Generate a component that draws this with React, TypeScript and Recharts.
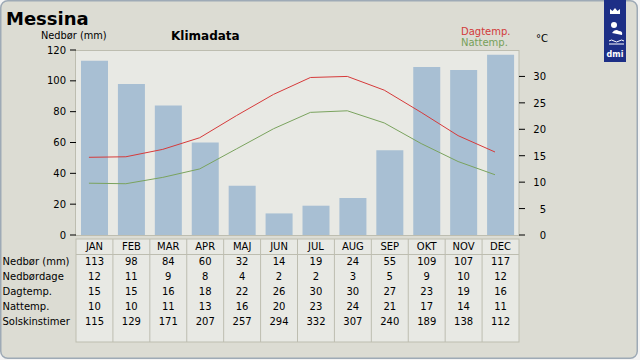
import React from 'react';
import { ComposedChart, Bar, Line, XAxis, YAxis } from 'recharts';

const months = ['JAN', 'FEB', 'MAR', 'APR', 'MAJ', 'JUN', 'JUL', 'AUG', 'SEP', 'OKT', 'NOV', 'DEC'];
const precipitation = [113, 98, 84, 60, 32, 14, 19, 24, 55, 109, 107, 117];
const rainDays = [12, 11, 9, 8, 4, 2, 2, 3, 5, 9, 10, 12];
const dayTempTable = [15, 15, 16, 18, 22, 26, 30, 30, 27, 23, 19, 16];
const nightTempTable = [10, 10, 11, 13, 16, 20, 23, 24, 21, 17, 14, 11];
const sunHours = [115, 129, 171, 207, 257, 294, 332, 307, 240, 189, 138, 112];
// curve values as drawn (not rounded)
const dayTempLine = [14.7, 14.8, 16.2, 18.4, 22.6, 26.6, 29.8, 30.0, 27.4, 23.2, 18.8, 15.7];
const nightTempLine = [9.8, 9.7, 10.9, 12.5, 16.3, 20.1, 23.2, 23.5, 21.2, 17.3, 13.9, 11.4];
const mmTicks = [0, 20, 40, 60, 80, 100, 120];
const tempTicks = [0, 5, 10, 15, 20, 25, 30];

const tableRows: { label: string; values: number[] }[] = [
  { label: 'Nedbør (mm)', values: precipitation },
  { label: 'Nedbørdage', values: rainDays },
  { label: 'Dagtemp.', values: dayTempTable },
  { label: 'Nattemp.', values: nightTempTable },
  { label: 'Solskinstimer', values: sunHours },
];

const data = months.map((m, i) => ({
  month: m,
  idx: i,
  precip: precipitation[i],
  day: dayTempLine[i],
  night: nightTempLine[i],
}));

const FONT = '"DejaVu Sans", Verdana, sans-serif';
const PLOT_L = 76;
const PLOT_R = 519;
const PLOT_T = 50;
const PLOT_B = 235;
const COL_W = (PLOT_R - PLOT_L) / 12;
const TABLE_T = 239;
const TABLE_B = 342;

const RightTick = (props: any) => {
  const { x, y, payload } = props;
  return (
    <text x={x + 19} y={y} dy={4} textAnchor="end" fontSize={10} fontFamily={FONT} fill="#000">
      {payload.value}
    </text>
  );
};

const Backdrop = () => (
  <svg width={640} height={360} style={{ position: 'absolute', left: 0, top: 0 }}>
    <rect x={0} y={0} width={640} height={360} fill="#f4f4f4" />
    <rect x={0.75} y={0.75} width={636.5} height={357.5} rx={7} fill="#dcdcd3" stroke="#9eaab6" strokeWidth={1.5} />
    <rect x={PLOT_L - 0.5} y={PLOT_T + 0.5} width={PLOT_R - PLOT_L + 0.5} height={PLOT_B - PLOT_T} fill="#e8e9e4" stroke="#bdbdb0" />
    <text x={6} y={25} fontSize={18} fontWeight="bold" fontFamily={FONT} fill="#000">Messina</text>
    <text x={171} y={39.5} fontSize={12} fontWeight="bold" fontFamily={FONT} fill="#000">Klimadata</text>
    <text x={41} y={39} fontSize={9.8} fontFamily={FONT} fill="#000">Nedbør (mm)</text>
    <text x={461} y={35} fontSize={10} fontFamily={FONT} fill="#d23a3a">Dagtemp.</text>
    <text x={461} y={45.5} fontSize={10} fontFamily={FONT} fill="#76a05a">Nattemp.</text>
    <text x={536} y={42} fontSize={10} fontFamily={FONT} fill="#000">°C</text>

    {/* table */}
    <rect x={PLOT_L} y={TABLE_T} width={PLOT_R - PLOT_L} height={TABLE_B - TABLE_T} fill="#e8e9e4" stroke="#bdbdb0" />
    <line x1={PLOT_L} x2={PLOT_R} y1={254.5} y2={254.5} stroke="#bdbdb0" />
    {months.map((m, i) => (
      <g key={m}>
        {i > 0 && (
          <line x1={PLOT_L + i * COL_W} x2={PLOT_L + i * COL_W} y1={TABLE_T} y2={TABLE_B} stroke="#bdbdb0" />
        )}
        <text x={PLOT_L + (i + 0.5) * COL_W} y={249.5} textAnchor="middle" fontSize={10} fontFamily={FONT} fill="#000">
          {m}
        </text>
        {tableRows.map((r, j) => (
          <text
            key={r.label}
            x={PLOT_L + (i + 0.5) * COL_W}
            y={264.7 + j * 15}
            textAnchor="middle"
            fontSize={10}
            fontFamily={FONT}
            fill="#000"
          >
            {r.values[i]}
          </text>
        ))}
      </g>
    ))}
    {tableRows.map((r, j) => (
      <text key={r.label} x={2.5} y={264.7 + j * 15} fontSize={10} fontFamily={FONT} fill="#000">
        {r.label}
      </text>
    ))}

    {/* DMI logo */}
    <rect x={604} y={0} width={22} height={62} fill="#1d2f86" />
    <path d="M610 14 L610 9 L612.5 11 L615 8 L617.5 11 L620 9 L620 14 Z" fill="#fff" />
    <circle cx={614} cy={25} r={3} fill="#fff" />
    <path d="M612 33 q3 -5 7 -2 q4 0 3 4 z" fill="#fff" />
    <path d="M609 41 q2.5 -2 5 0 t5 0 t5 0 M609 44 h15" stroke="#fff" strokeWidth={1} fill="none" />
    <text x={615} y={57} textAnchor="middle" fontSize={8} fontWeight="bold" fontFamily={FONT} fill="#fff">dmi</text>
  </svg>
);

export default function App() {
  return (
    <div style={{ position: 'absolute', left: 0, top: 0, width: 640, height: 360 }}>
      <Backdrop />
      <div style={{ position: 'absolute', left: 0, top: 0 }}>
        <ComposedChart width={640} height={360} data={data} margin={{ top: PLOT_T, right: 61, left: 16, bottom: 360 - PLOT_B }}>
          <XAxis xAxisId="bar" dataKey="month" type="category" hide />
          <XAxis xAxisId="line" dataKey="idx" type="number" domain={[-0.35, 11.65]} allowDataOverflow hide />
          <YAxis
            yAxisId="mm"
            orientation="left"
            width={60}
            domain={[0, 120]}
            ticks={mmTicks}
            interval={0}
            axisLine={false}
            tickSize={6}
            tickMargin={4}
            tickLine={{ stroke: '#000' }}
            tick={{ fill: '#000', fontSize: 10, fontFamily: FONT }}
          />
          <YAxis
            yAxisId="temp"
            orientation="right"
            width={60}
            domain={[0, 35]}
            ticks={tempTicks}
            interval={0}
            axisLine={false}
            tickSize={6}
            tickMargin={2}
            tickLine={{ stroke: '#000' }}
            tick={<RightTick />}
          />
          <Bar xAxisId="bar" yAxisId="mm" dataKey="precip" fill="#a8bfd3" barSize={27} isAnimationActive={false} />
          <Line xAxisId="line" yAxisId="temp" type="linear" dataKey="day" stroke="#d63a3a" strokeWidth={1} dot={false} isAnimationActive={false} />
          <Line xAxisId="line" yAxisId="temp" type="linear" dataKey="night" stroke="#7aa35e" strokeWidth={1} dot={false} isAnimationActive={false} />
        </ComposedChart>
      </div>
    </div>
  );
}
